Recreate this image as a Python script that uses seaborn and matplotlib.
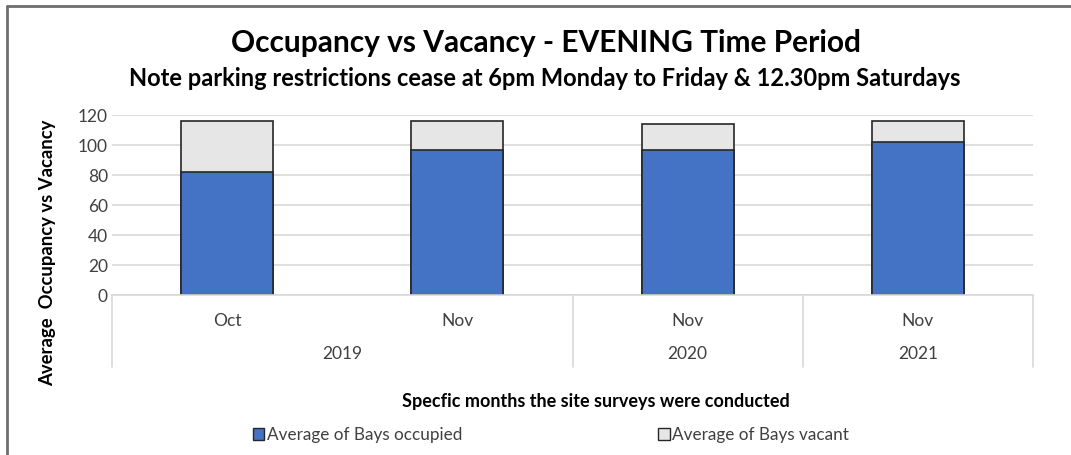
import matplotlib
matplotlib.use("Agg")
import matplotlib.pyplot as plt
import seaborn as sns
import pandas as pd
from matplotlib.patches import Patch
from matplotlib.lines import Line2D

# ---- data ----
months = ["Oct", "Nov", "Nov", "Nov"]
years = ["2019", "2019", "2020", "2021"]
occupied = [82, 97, 97, 102]
vacant = [34, 19, 17, 14]
yticks = [0, 20, 40, 60, 80, 100, 120]

title = "Occupancy vs Vacancy - EVENING Time Period"
subtitle = "Note parking restrictions cease at 6pm Monday to Friday & 12.30pm Saturdays"
ylabel = "Average  Occupancy vs Vacancy"
xlabel = "Specfic months the site surveys were conducted"
legend_labels = ["Average of Bays occupied", "Average of Bays vacant"]

BLUE = "#4472C4"
GRAY = "#E7E6E6"
EDGE = "#262626"
TXT = "#404040"

sns.set_theme(style="white")
plt.rcParams["font.family"] = ["Lato", "DejaVu Sans"]

keys = [f"{m}\n{y}#{i}" for i, (m, y) in enumerate(zip(months, years))]
df = pd.DataFrame({"key": keys, "occupied": occupied,
                   "total": [o + v for o, v in zip(occupied, vacant)]})

fig = plt.figure(figsize=(10.71, 4.55), dpi=100)
ax = fig.add_axes([112 / 1071, 1 - 295 / 455, (1033 - 112) / 1071, (295 - 115) / 455])

sns.barplot(data=df, x="key", y="total", color=GRAY, width=0.4,
            edgecolor=EDGE, linewidth=1.2, ax=ax, saturation=1)
sns.barplot(data=df, x="key", y="occupied", color=BLUE, width=0.4,
            edgecolor=EDGE, linewidth=1.2, ax=ax, saturation=1)

ax.set_ylim(0, 120)
ax.set_xlim(-0.5, len(keys) - 0.5)
ax.set_yticks(yticks)
ax.set_yticklabels([str(t) for t in yticks], fontsize=12.5, color=TXT)
ax.tick_params(axis="y", length=0, pad=3)
ax.yaxis.grid(True, color="#D9D9D9", linewidth=1.2)
ax.set_axisbelow(True)
for s in ax.spines.values():
    s.set_visible(False)
ax.set_xticks([])
ax.set_xlabel("")
ax.set_ylabel("")

# hierarchical category axis (table style)
trans = ax.get_xaxis_transform()
lc = "#D9D9D9"
ax.add_line(Line2D([-0.5, len(keys) - 0.5], [0, 0], transform=trans, color=lc, lw=1.2, clip_on=False))
depth = -(367 - 295) / (295 - 115)
groups = []
for i, y in enumerate(years):
    if groups and groups[-1][0] == y:
        groups[-1][2] = i
    else:
        groups.append([y, i, i])
bounds = [-0.5] + [g[2] + 0.5 for g in groups]
for b in bounds:
    ax.add_line(Line2D([b, b], [0, depth], transform=trans, color=lc, lw=1.2, clip_on=False))
for i, m in enumerate(months):
    ax.text(i, -(321 - 295) / 180, m, transform=trans, ha="center", va="center",
            fontsize=12.5, color=TXT)
for y, a, b in groups:
    ax.text((a + b) / 2, -(354 - 295) / 180, y, transform=trans, ha="center", va="center",
            fontsize=12.5, color=TXT)

# titles
fig.text(546 / 1071, 1 - 43 / 455, title, ha="center", va="center",
         fontsize=21.5, fontweight="bold", color="black")
fig.text(545 / 1071, 1 - 78 / 455, subtitle, ha="center", va="center",
         fontsize=17, fontweight="bold", color="black")
fig.text(48 / 1071, 1 - 253 / 455, ylabel, ha="center", va="center", rotation=90,
         fontsize=13.3, fontweight="bold", color="black")
fig.text(596 / 1071, 1 - 401 / 455, xlabel, ha="center", va="center",
         fontsize=13, fontweight="bold", color="black")

handles = [Patch(facecolor=BLUE, edgecolor=EDGE), Patch(facecolor=GRAY, edgecolor=EDGE)]
leg = fig.legend(handles, legend_labels, loc="center", bbox_to_anchor=(551 / 1071, 1 - 435 / 455),
                 ncol=2, frameon=False, fontsize=12.3, handlelength=0.65, handleheight=0.65,
                 handletextpad=0.15, columnspacing=11.5)
for t in leg.get_texts():
    t.set_color(TXT)

# outer frame lines (left and top)
fig.add_artist(Line2D([7 / 1071, 7 / 1071], [0, 1 - 6 / 455], transform=fig.transFigure,
                      color="#6E6E6E", lw=2))
fig.add_artist(Line2D([7 / 1071, 1], [1 - 6 / 455, 1 - 6 / 455], transform=fig.transFigure,
                      color="#6E6E6E", lw=2))

fig.savefig("out.png", dpi=100)
